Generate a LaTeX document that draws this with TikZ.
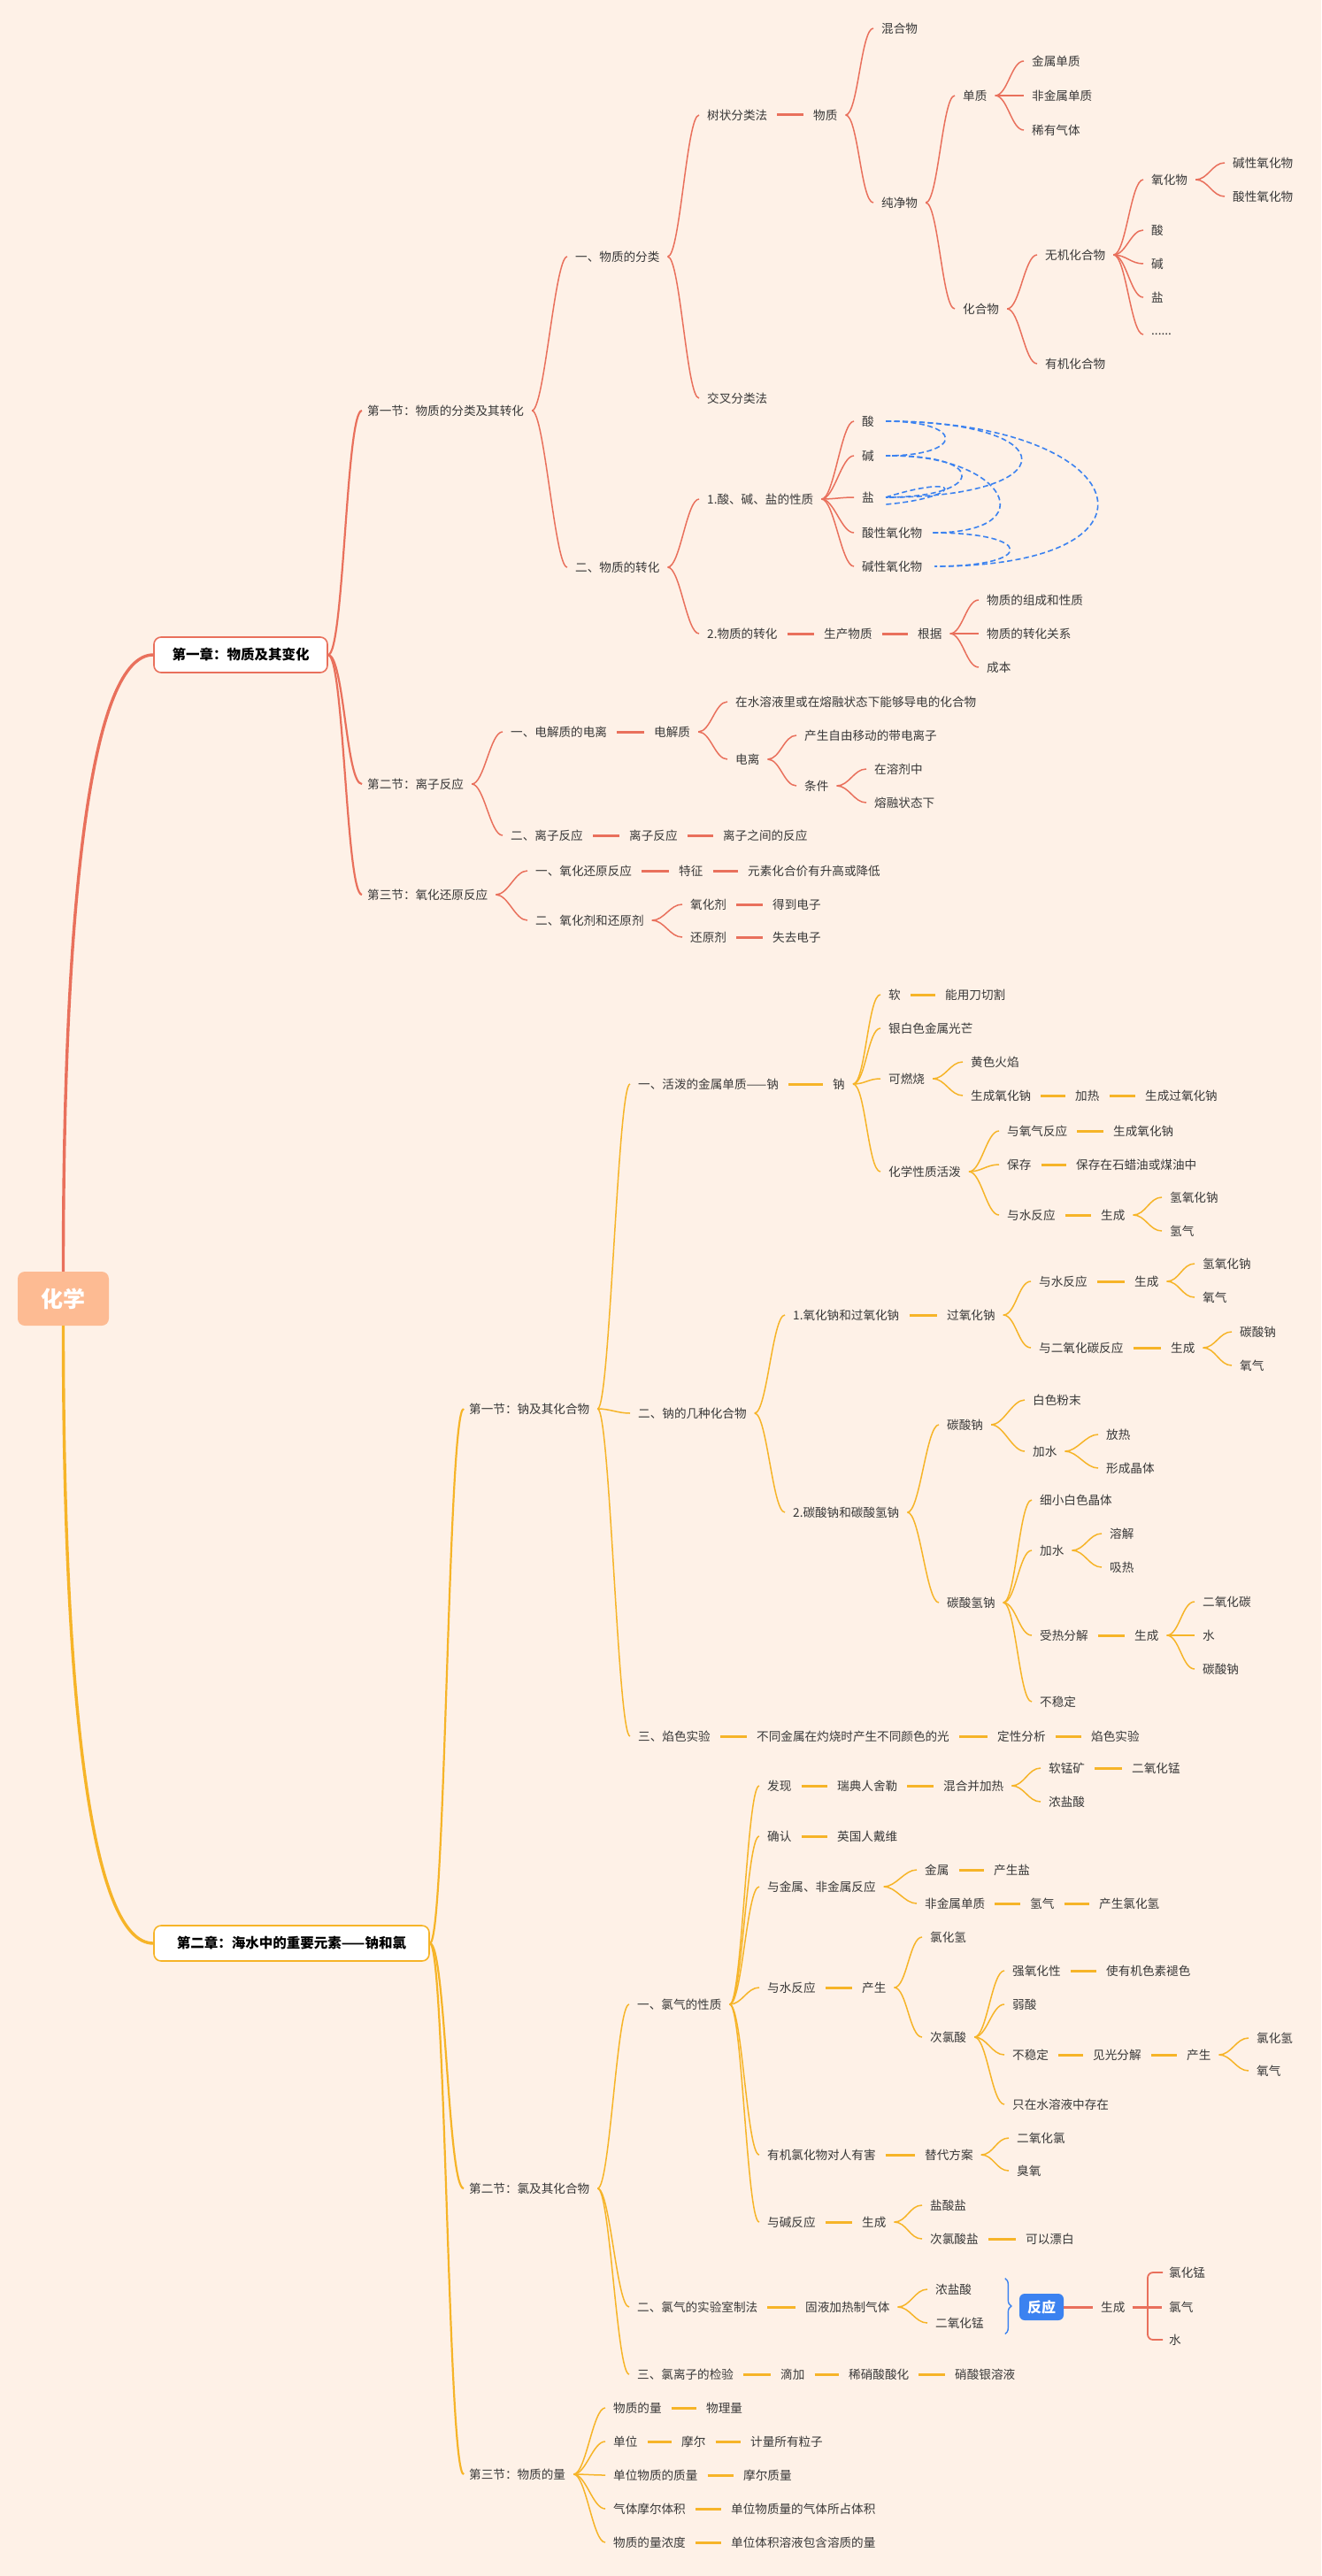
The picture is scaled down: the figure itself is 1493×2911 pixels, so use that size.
\documentclass[tikz,border=0pt]{standalone}
\usepackage{fontspec}
\setmainfont{Noto Sans CJK SC}
\usetikzlibrary{calc,decorations.pathreplacing}

\definecolor{paper}{HTML}{FEF1E7}
\definecolor{rust}{HTML}{E9705C}
\definecolor{amber}{HTML}{F6B428}
\definecolor{peach}{HTML}{FDBB93}
\definecolor{azure}{HTML}{3B82F0}
\definecolor{ink}{HTML}{383838}

\tikzset{
  leaf/.style={anchor=west,inner sep=0pt,text=ink,font=\fontsize{13.6}{16}\selectfont},
  twig/.style={line width=1.5pt},
  stub/.style={line width=3pt},
  limb/.style={line width=2.2pt},
  trunk/.style={line width=3.4pt},
  rootbox/.style={fill=peach,rounded corners=8pt,minimum width=103pt,minimum height=61pt,text=white,font=\fontsize{25}{28}\selectfont\bfseries},
  chapbox/.style={draw,fill=white,line width=1.6pt,rounded corners=8pt,minimum height=40pt,inner sep=0pt,text=black,font=\fontsize{15.5}{18}\selectfont\bfseries},
  reactbox/.style={fill=azure,rounded corners=6pt,minimum width=50pt,minimum height=30pt,inner sep=0pt,text=white,font=\fontsize{16}{18}\selectfont\bfseries},
  react/.style={azure,dash pattern=on 6pt off 3.5pt,line width=1.6pt},
}

% connectors
\newcommand\twigto[3]{\draw[twig,#1] ([xshift=9pt]#2.east) .. controls +(14,0) and +(-14,0) .. ([xshift=-9pt]#3.west)}
\newcommand\stubto[3]{\draw[stub,#1] ([xshift=11pt]#2.east) -- ([xshift=-11pt]#3.west)}
\newcommand\limbto[3]{\draw[limb,#1] (#2.east) .. controls +(18,0) and +(-18,0) .. ([xshift=-6pt]#3.west)}
\newcommand\sixdots{......}

\begin{document}
\begin{tikzpicture}[x=1pt,y=-1pt]
	% paper
	\fill[paper] (0,0) rectangle (1493,2911);
	\useasboundingbox (0,0) rectangle (1493,2911);
	% root and chapters
	\node[rootbox] (root) at (71.5,1467.5) {化学};
	\node[chapbox,draw=rust,minimum width=196pt] (c1) at (272,740) {第一章：物质及其变化};
	\node[chapbox,draw=amber,minimum width=311pt] (c2) at (329.5,2196) {第二章：海水中的重要元素——钠和氯};
	\draw[trunk,rust] (root.north) .. controls (71.5,1000) and (105,740) .. (c1.west);
	\draw[trunk,amber] (root.south) .. controls (71.5,1940) and (105,2196) .. (c2.west);
	% chapter one
		\foreach \n/\x/\y/\t in {s11/415/464/第一节：物质的分类及其转化,
			s12/415/886/第二节：离子反应,
			s13/415/1011/第三节：氧化还原反应,
			p1/650/290/一、物质的分类,
			p2/650/641/二、物质的转化,
			shu/799/130/树状分类法,
			jiaocha/799/450/交叉分类法,
			wuzhi/919/130/物质,
			hunhe/996/32/混合物,
			chunjing/996/229/纯净物,
			danzhi/1088/108/单质,
			jsdz/1166/69/金属单质,
			fjsdz/1166/108/非金属单质,
			xyqt/1166/147/稀有气体,
			hhw/1088/349/化合物,
			wjhhw/1181/288/无机化合物,
			yjhhw/1181/411/有机化合物,
			yhw/1301/203/氧化物,
			jxyhw/1393/184/碱性氧化物,
			sxyhw/1393/222/酸性氧化物,
			suan/1301/260/酸,
			jian/1301/298/碱,
			yan/1301/336/盐,
			etc/1301/378/\sixdots,
			q1/799/564/1.酸、碱、盐的性质,
			q2/799/716/2.物质的转化,
			acid/974/476/酸,
			base/974/515/碱,
			salt/974/562/盐,
			axy/974/602/酸性氧化物,
			bxy/974/640/碱性氧化物,
			scwz/931/716/生产物质,
			genju/1037/716/根据,
			zc/1115/678/物质的组成和性质,
			zh/1115/716/物质的转化关系,
			cb/1115/754/成本,
			r1/577/827/一、电解质的电离,
			r2/577/944/二、离子反应,
			djz/739/827/电解质,
			dingyi/831/793/在水溶液里或在熔融状态下能够导电的化合物,
			dianli/831/858/电离,
			chansheng/909/831/产生自由移动的带电离子,
			tiaojian/909/888/条件,
			rjz/988/869/在溶剂中,
			rrzt/988/907/熔融状态下,
			lzfy/711/944/离子反应,
			lzzj/817/944/离子之间的反应,
			t1/605/984/一、氧化还原反应,
			t2/605/1040/二、氧化剂和还原剂,
			tz/767/984/特征,
			ys/845/984/元素化合价有升高或降低,
			yhj/780/1022/氧化剂,
			ddz/873/1022/得到电子,
			hyj/780/1059/还原剂,
			sqdz/873/1059/失去电子}
			\node[leaf] (\n) at (\x,\y) {\t};
	% chapter two
		\foreach \n/\x/\y/\t in {s21/530/1592/第一节：钠及其化合物,
			s22/530/2473/第二节：氯及其化合物,
			s23/530/2796/第三节：物质的量,
			u1/721/1225/一、活泼的金属单质——钠,
			u2/721/1597/二、钠的几种化合物,
			u3/721/1962/三、焰色实验,
			na/941/1225/钠,
			ruan/1004/1124/软,
			qg/1068/1124/能用刀切割,
			ybs/1004/1162/银白色金属光芒,
			krs/1004/1219/可燃烧,
			hshy/1097/1200/黄色火焰,
			scyhn/1097/1238/生成氧化钠,
			jr/1215/1238/加热,
			scgyhn/1294/1238/生成过氧化钠,
			hxxz/1004/1324/化学性质活泼,
			yyq/1138/1278/与氧气反应,
			scyhnb/1258/1278/生成氧化钠,
			bc/1138/1316/保存,
			bczsl/1216/1316/保存在石蜡油或煤油中,
			ysfy/1138/1373/与水反应,
			sca/1244/1373/生成,
			qyhn/1322/1353/氢氧化钠,
			qq/1322/1391/氢气,
			v1/896/1486/1.氧化钠和过氧化钠,
			v2/896/1709/2.碳酸钠和碳酸氢钠,
			gyhn/1070/1486/过氧化钠,
			ysfyb/1174/1448/与水反应,
			scb/1282/1448/生成,
			qyhnb/1359/1428/氢氧化钠,
			yqa/1359/1466/氧气,
			yeyht/1174/1523/与二氧化碳反应,
			scc/1323/1523/生成,
			tsna/1401/1505/碳酸钠,
			yqb/1401/1543/氧气,
			tsnb/1070/1610/碳酸钠,
			bsfm/1167/1582/白色粉末,
			jsa/1167/1640/加水,
			fr/1250/1621/放热,
			xcjt/1250/1659/形成晶体,
			tsqn/1070/1811/碳酸氢钠,
			xxbs/1175/1695/细小白色晶体,
			jsb/1175/1752/加水,
			rj/1254/1733/溶解,
			xr/1254/1771/吸热,
			srfj/1175/1848/受热分解,
			scd/1282/1848/生成,
			eyht/1359/1810/二氧化碳,
			shui/1359/1848/水,
			tsnc/1359/1886/碳酸钠,
			bwd/1175/1923/不稳定,
			btjs/855/1962/不同金属在灼烧时产生不同颜色的光,
			dxfx/1127/1962/定性分析,
			ysxsy/1233/1962/焰色实验,
			w1/720/2265/一、氯气的性质,
			w2/720/2607/二、氯气的实验室制法,
			w3/720/2683/三、氯离子的检验,
			fx/867/2018/发现,
			rd/946/2018/瑞典人舍勒,
			hhjr/1066/2018/混合并加热,
			rmk/1185/1998/软锰矿,
			eyhm/1279/1998/二氧化锰,
			nys/1185/2036/浓盐酸,
			qr/867/2075/确认,
			yg/946/2075/英国人戴维,
			yjs/867/2132/与金属、非金属反应,
			jsm/1045/2113/金属,
			csy/1123/2113/产生盐,
			fjs/1045/2151/非金属单质,
			qqb/1164/2151/氢气,
			cslhq/1242/2151/产生氯化氢,
			ysfyc/867/2246/与水反应,
			csa/974/2246/产生,
			lhq/1051/2189/氯化氢,
			clx/1051/2302/次氯酸,
			qyhx/1144/2227/强氧化性,
			syjs/1250/2227/使有机色素褪色,
			rs/1144/2265/弱酸,
			bwdb/1144/2322/不稳定,
			jgfj/1235/2322/见光分解,
			csb/1341/2322/产生,
			lhqb/1420/2303/氯化氢,
			yqc/1420/2340/氧气,
			zzsr/1144/2378/只在水溶液中存在,
			yjl/867/2435/有机氯化物对人有害,
			tdfa/1045/2435/替代方案,
			eyhl/1149/2416/二氧化氯,
			cy/1149/2453/臭氧,
			yjfy/867/2511/与碱反应,
			sce/974/2511/生成,
			ysy/1051/2492/盐酸盐,
			clsy/1051/2530/次氯酸盐,
			kypb/1159/2530/可以漂白,
			gyjr/910/2607/固液加热制气体,
			nysb/1057/2587/浓盐酸,
			eyhmb/1057/2625/二氧化锰,
			scf/1244/2607/生成,
			lhm/1321/2568/氯化锰,
			lq/1321/2607/氯气,
			shuib/1321/2644/水,
			dj/882/2683/滴加,
			xxs/959/2683/稀硝酸酸化,
			xsy/1079/2683/硝酸银溶液,
			m1/693/2721/物质的量,
			wlj/798/2721/物理量,
			m2/693/2759/单位,
			me/770/2759/摩尔,
			jl/848/2759/计量所有粒子,
			m3/693/2797/单位物质的质量,
			mezl/840/2797/摩尔质量,
			m4/693/2835/气体摩尔体积,
			dwwz/826/2835/单位物质量的气体所占体积,
			m5/693/2873/物质的量浓度,
			dwtj/826/2873/单位体积溶液包含溶质的量}
			\node[leaf] (\n) at (\x,\y) {\t};
	\node[reactbox] (fy) at (1177,2607) {反应};
	% links of chapter one
		\foreach \ch in {s11,s12,s13} \limbto{rust}{c1}{\ch};
		\foreach \ch in {p1,p2} \twigto{rust}{s11}{\ch};
		\foreach \ch in {shu,jiaocha} \twigto{rust}{p1}{\ch};
		\stubto{rust}{shu}{wuzhi};
		\foreach \ch in {hunhe,chunjing} \twigto{rust}{wuzhi}{\ch};
		\foreach \ch in {danzhi,hhw} \twigto{rust}{chunjing}{\ch};
		\foreach \ch in {jsdz,fjsdz,xyqt} \twigto{rust}{danzhi}{\ch};
		\foreach \ch in {wjhhw,yjhhw} \twigto{rust}{hhw}{\ch};
		\foreach \ch in {yhw,suan,jian,yan,etc} \twigto{rust}{wjhhw}{\ch};
		\foreach \ch in {jxyhw,sxyhw} \twigto{rust}{yhw}{\ch};
		\foreach \ch in {q1,q2} \twigto{rust}{p2}{\ch};
		\foreach \ch in {acid,base,salt,axy,bxy} \twigto{rust}{q1}{\ch};
		\stubto{rust}{q2}{scwz};
		\stubto{rust}{scwz}{genju};
		\foreach \ch in {zc,zh,cb} \twigto{rust}{genju}{\ch};
		\foreach \ch in {r1,r2} \twigto{rust}{s12}{\ch};
		\stubto{rust}{r1}{djz};
		\foreach \ch in {dingyi,dianli} \twigto{rust}{djz}{\ch};
		\foreach \ch in {chansheng,tiaojian} \twigto{rust}{dianli}{\ch};
		\foreach \ch in {rjz,rrzt} \twigto{rust}{tiaojian}{\ch};
		\stubto{rust}{r2}{lzfy};
		\stubto{rust}{lzfy}{lzzj};
		\foreach \ch in {t1,t2} \twigto{rust}{s13}{\ch};
		\stubto{rust}{t1}{tz};
		\stubto{rust}{tz}{ys};
		\foreach \ch in {yhj,hyj} \twigto{rust}{t2}{\ch};
		\stubto{rust}{yhj}{ddz};
		\stubto{rust}{hyj}{sqdz};
	% acid, base, salt
		\draw[react] ([xshift=13pt]acid.east) .. controls +(90,0) and +(90,0) .. ([xshift=13pt]base.east);
		\draw[react] ([xshift=13pt]acid.east) .. controls +(205,0) and +(205,0) .. ([xshift=13pt]salt.east);
		\draw[react] ([xshift=13pt]acid.east) .. controls +(280,0) and +(280,0) .. ([xshift=14pt]bxy.east);
		\draw[react] ([xshift=20pt]base.east) .. controls +(110,0) and +(110,0) .. ([xshift=13pt]salt.east);
		\draw[react] ([xshift=20pt]base.east) .. controls +(128,0) and +(128,0) .. ([xshift=12pt]axy.east);
		\draw[react] ([xshift=13pt]salt.east) .. controls +(89,-28) and +(89,-8) .. ([xshift=13pt,yshift=-8pt]salt.east);
		\draw[react] ([xshift=12pt]axy.east) .. controls +(115,0) and +(115,0) .. ([xshift=14pt]bxy.east);
	% links of chapter two
		\foreach \ch in {s21,s22,s23} \limbto{amber}{c2}{\ch};
		\foreach \ch in {u1,u2,u3} \twigto{amber}{s21}{\ch};
		\stubto{amber}{u1}{na};
		\foreach \ch in {ruan,ybs,krs,hxxz} \twigto{amber}{na}{\ch};
		\stubto{amber}{ruan}{qg};
		\foreach \ch in {hshy,scyhn} \twigto{amber}{krs}{\ch};
		\stubto{amber}{scyhn}{jr};
		\stubto{amber}{jr}{scgyhn};
		\foreach \ch in {yyq,bc,ysfy} \twigto{amber}{hxxz}{\ch};
		\stubto{amber}{yyq}{scyhnb};
		\stubto{amber}{bc}{bczsl};
		\stubto{amber}{ysfy}{sca};
		\foreach \ch in {qyhn,qq} \twigto{amber}{sca}{\ch};
		\foreach \ch in {v1,v2} \twigto{amber}{u2}{\ch};
		\stubto{amber}{v1}{gyhn};
		\foreach \ch in {ysfyb,yeyht} \twigto{amber}{gyhn}{\ch};
		\stubto{amber}{ysfyb}{scb};
		\foreach \ch in {qyhnb,yqa} \twigto{amber}{scb}{\ch};
		\stubto{amber}{yeyht}{scc};
		\foreach \ch in {tsna,yqb} \twigto{amber}{scc}{\ch};
		\foreach \ch in {tsnb,tsqn} \twigto{amber}{v2}{\ch};
		\foreach \ch in {bsfm,jsa} \twigto{amber}{tsnb}{\ch};
		\foreach \ch in {fr,xcjt} \twigto{amber}{jsa}{\ch};
		\foreach \ch in {xxbs,jsb,srfj,bwd} \twigto{amber}{tsqn}{\ch};
		\foreach \ch in {rj,xr} \twigto{amber}{jsb}{\ch};
		\stubto{amber}{srfj}{scd};
		\foreach \ch in {eyht,shui,tsnc} \twigto{amber}{scd}{\ch};
		\stubto{amber}{u3}{btjs};
		\stubto{amber}{btjs}{dxfx};
		\stubto{amber}{dxfx}{ysxsy};
		\foreach \ch in {w1,w2,w3} \twigto{amber}{s22}{\ch};
		\foreach \ch in {fx,qr,yjs,ysfyc,yjl,yjfy} \twigto{amber}{w1}{\ch};
		\stubto{amber}{fx}{rd};
		\stubto{amber}{rd}{hhjr};
		\foreach \ch in {rmk,nys} \twigto{amber}{hhjr}{\ch};
		\stubto{amber}{rmk}{eyhm};
		\stubto{amber}{qr}{yg};
		\foreach \ch in {jsm,fjs} \twigto{amber}{yjs}{\ch};
		\stubto{amber}{jsm}{csy};
		\stubto{amber}{fjs}{qqb};
		\stubto{amber}{qqb}{cslhq};
		\stubto{amber}{ysfyc}{csa};
		\foreach \ch in {lhq,clx} \twigto{amber}{csa}{\ch};
		\foreach \ch in {qyhx,rs,bwdb,zzsr} \twigto{amber}{clx}{\ch};
		\stubto{amber}{qyhx}{syjs};
		\stubto{amber}{bwdb}{jgfj};
		\stubto{amber}{jgfj}{csb};
		\foreach \ch in {lhqb,yqc} \twigto{amber}{csb}{\ch};
		\stubto{amber}{yjl}{tdfa};
		\foreach \ch in {eyhl,cy} \twigto{amber}{tdfa}{\ch};
		\stubto{amber}{yjfy}{sce};
		\foreach \ch in {ysy,clsy} \twigto{amber}{sce}{\ch};
		\stubto{amber}{clsy}{kypb};
		\stubto{amber}{w2}{gyjr};
		\foreach \ch in {nysb,eyhmb} \twigto{amber}{gyjr}{\ch};
		\stubto{amber}{w3}{dj};
		\stubto{amber}{dj}{xxs};
		\stubto{amber}{xxs}{xsy};
		\foreach \ch in {m1,m2,m3,m4,m5} \twigto{amber}{s23}{\ch};
		\stubto{amber}{m1}{wlj};
		\stubto{amber}{m2}{me};
		\stubto{amber}{me}{jl};
		\stubto{amber}{m3}{mezl};
		\stubto{amber}{m4}{dwwz};
		\stubto{amber}{m5}{dwtj};
	% reaction of the lab method
		\draw[azure,line width=1.4pt,decorate,decoration={brace,amplitude=7pt}]
			($(fy.west |- nysb.north)+(-16,-6)$) -- ($(fy.west |- eyhmb.south)+(-16,6)$);
		\draw[stub,rust] (fy.east) -- ([xshift=-9pt]scf.west);
		\draw[stub,rust] ([xshift=8pt]scf.east) -- ([xshift=-8pt]lq.west);
		\draw[rust,line width=1.8pt,rounded corners=6pt] ([xshift=-7pt]lhm.west) -- ($(lhm.west)+(-24,0)$)
			-- ($(shuib.west)+(-24,0)$) -- ([xshift=-7pt]shuib.west);
\end{tikzpicture}
\end{document}
